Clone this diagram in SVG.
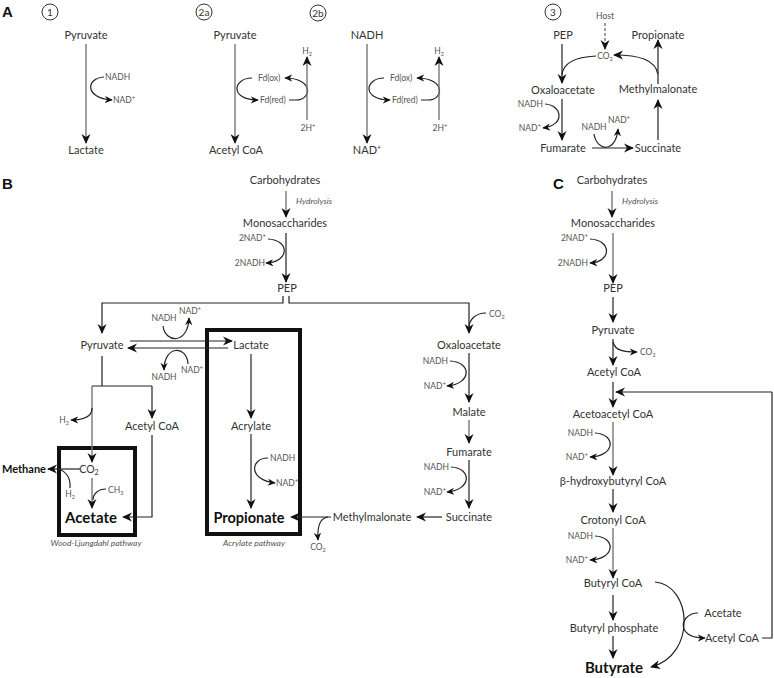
<svg xmlns="http://www.w3.org/2000/svg" width="774" height="678" viewBox="0 0 774 678">
<style>
text{font-family:Lato,"Liberation Sans",sans-serif;fill:#333}
.n{font-size:11px;text-anchor:middle}
.s{font-size:8.5px;fill:#555}
.c{text-anchor:middle}
.e{text-anchor:end}
.b{font-weight:bold;fill:#111;text-anchor:middle}
.p{font-family:"Liberation Sans",Arial,sans-serif;font-weight:bold;font-size:15px;fill:#111}
.i{font-style:italic;font-size:8.5px;fill:#555}
.l{fill:none;stroke:#222;stroke-width:1.2}
.g{fill:none;stroke:#777;stroke-width:1.4}
.a{marker-end:url(#ah)}
.sa{marker-end:url(#sh)}
.box{fill:none;stroke:#111;stroke-width:4}
.ci{fill:none;stroke:#333;stroke-width:1}
</style>
<defs>
<marker id="ah" viewBox="0 0 10 10" refX="9" refY="5" markerWidth="10" markerHeight="10" orient="auto" markerUnits="userSpaceOnUse"><path d="M0,0.5 L10,5 L0,9.5 L3,5 z" fill="#111"/></marker>
<marker id="sh" viewBox="0 0 10 10" refX="9" refY="5" markerWidth="8" markerHeight="8" orient="auto" markerUnits="userSpaceOnUse"><path d="M0,0.5 L10,5 L0,9.5 L3,5 z" fill="#111"/></marker>
</defs>

<g id="labels">
<text class="p" x="2" y="17">A</text>
<text class="p" x="2" y="189">B</text>
<text class="p" x="553" y="189">C</text>
</g>

<g id="circle-1"><circle class="ci" cx="50" cy="12" r="8"/><text class="c" x="50" y="16" font-size="10">1</text></g>
<g id="circle-2a"><circle class="ci" cx="204" cy="12" r="8"/><text class="c" x="204" y="16" font-size="10">2a</text></g>
<g id="circle-2b"><circle class="ci" cx="318" cy="13" r="8"/><text class="c" x="318" y="17" font-size="10">2b</text></g>
<g id="circle-3"><circle class="ci" cx="553" cy="12" r="8"/><text class="c" x="553" y="16" font-size="10">3</text></g>

<!-- Panel A nodes -->
<g id="a1-pyruvate"><text class="n" x="86" y="39">Pyruvate</text></g>
<g id="a1-lactate"><text class="n" x="86" y="154">Lactate</text></g>
<g id="a1-nadh"><text class="s" x="105" y="80">NADH</text></g>
<g id="a1-nad"><text class="s" x="113" y="103">NAD<tspan dy="-3" font-size="6">+</tspan></text></g>

<g id="a2a-pyruvate"><text class="n" x="235" y="39">Pyruvate</text></g>
<g id="a2a-acetylcoa"><text class="n" x="236" y="154">Acetyl CoA</text></g>
<g id="a2a-fdox"><text class="s" x="258" y="81">Fd(ox)</text></g>
<g id="a2a-fdred"><text class="s" x="260" y="103">Fd(red)</text></g>
<g id="a2a-h2"><text class="s c" x="307" y="54">H<tspan dy="2" font-size="5.5">2</tspan></text></g>
<g id="a2a-2h"><text class="s c" x="308" y="131">2H<tspan dy="-3" font-size="6">+</tspan></text></g>

<g id="a2b-nadh"><text class="n" x="367" y="39">NADH</text></g>
<g id="a2b-nad"><text class="n" x="367" y="154">NAD<tspan dy="-4" font-size="7">+</tspan></text></g>
<g id="a2b-fdox"><text class="s" x="390" y="81">Fd(ox)</text></g>
<g id="a2b-fdred"><text class="s" x="392" y="103">Fd(red)</text></g>
<g id="a2b-h2"><text class="s c" x="439" y="54">H<tspan dy="2" font-size="5.5">2</tspan></text></g>
<g id="a2b-2h"><text class="s c" x="440" y="131">2H<tspan dy="-3" font-size="6">+</tspan></text></g>

<g id="a3-host"><text class="s c" x="605" y="19" font-size="8">Host</text></g>
<g id="a3-co2"><text class="s c" x="605" y="59">CO<tspan dy="2" font-size="5.5">2</tspan></text></g>
<g id="a3-pep"><text class="n" x="563" y="39">PEP</text></g>
<g id="a3-propionate"><text class="n" x="658" y="39">Propionate</text></g>
<g id="a3-oxaloacetate"><text class="n" x="563" y="94">Oxaloacetate</text></g>
<g id="a3-methylmalonate"><text class="n" x="658" y="93">Methylmalonate</text></g>
<g id="a3-fumarate"><text class="n" x="563" y="152">Fumarate</text></g>
<g id="a3-succinate"><text class="n" x="658" y="152">Succinate</text></g>
<g id="a3-nadh1"><text class="s e" x="543" y="107">NADH</text></g>
<g id="a3-nad1"><text class="s e" x="541" y="131">NAD<tspan dy="-3" font-size="6">+</tspan></text></g>
<g id="a3-nadh2"><text class="s c" x="594" y="130">NADH</text></g>
<g id="a3-nad2"><text class="s c" x="619" y="123">NAD<tspan dy="-3" font-size="6">+</tspan></text></g>

<!-- Panel B nodes -->
<g id="b-carbohydrates"><text class="n" x="285" y="184">Carbohydrates</text></g>
<g id="b-hydrolysis"><text class="i" x="296" y="204">Hydrolysis</text></g>
<g id="b-monosaccharides"><text class="n" x="285" y="227">Monosaccharides</text></g>
<g id="b-2nad"><text class="s e" x="266" y="241">2NAD<tspan dy="-3" font-size="6">+</tspan></text></g>
<g id="b-2nadh"><text class="s e" x="265" y="266">2NADH</text></g>
<g id="b-pep"><text class="n" x="287" y="292">PEP</text></g>
<g id="b-pyruvate"><text class="n" x="102" y="349">Pyruvate</text></g>
<g id="b-lactate"><text class="n" x="251" y="349">Lactate</text></g>
<g id="b-nadh1"><text class="s c" x="164" y="321">NADH</text></g>
<g id="b-nad1"><text class="s c" x="190" y="314">NAD<tspan dy="-3" font-size="6">+</tspan></text></g>
<g id="b-nadh2"><text class="s c" x="164" y="380">NADH</text></g>
<g id="b-nad2"><text class="s c" x="192" y="373">NAD<tspan dy="-3" font-size="6">+</tspan></text></g>
<g id="b-h2"><text class="s c" x="64" y="423">H<tspan dy="2" font-size="5.5">2</tspan></text></g>
<g id="b-acetylcoa"><text class="n" x="152" y="430">Acetyl CoA</text></g>
<g id="b-wl-box"><rect class="box" x="59" y="448" width="76" height="87"/>
<text class="c" x="89" y="473" font-size="10.5">CO<tspan dy="2" font-size="7">2</tspan></text>
<text class="s c" x="70" y="497">H<tspan dy="2" font-size="5.5">2</tspan></text>
<text class="s" x="108" y="493">CH<tspan dy="2" font-size="5.5">3</tspan></text>
<text class="b" x="91" y="523" font-size="15">Acetate</text></g>
<g id="b-methane"><text class="b e" x="46" y="473" font-size="11" style="text-anchor:end">Methane</text></g>
<g id="b-wl-label"><text class="i c" x="96" y="546">Wood-Ljungdahl pathway</text></g>
<g id="b-acrylate-box"><rect class="box" x="207" y="330" width="93" height="204"/>
<text class="n" x="251" y="430">Acrylate</text>
<text class="s" x="270" y="461">NADH</text>
<text class="s" x="276" y="486">NAD<tspan dy="-3" font-size="6">+</tspan></text>
<text class="b" x="249" y="523" font-size="14.5">Propionate</text></g>
<g id="b-acrylate-label"><text class="i c" x="254" y="546">Acrylate pathway</text></g>
<g id="b-co2-b"><text class="s c" x="318" y="550">CO<tspan dy="2" font-size="5.5">2</tspan></text></g>
<g id="b-co2-a"><text class="s" x="489" y="317">CO<tspan dy="2" font-size="5.5">2</tspan></text></g>
<g id="b-oxaloacetate"><text class="n" x="469" y="349">Oxaloacetate</text></g>
<g id="b-nadh3"><text class="s e" x="448" y="364">NADH</text></g>
<g id="b-nad3"><text class="s e" x="446" y="389">NAD<tspan dy="-3" font-size="6">+</tspan></text></g>
<g id="b-malate"><text class="n" x="469" y="416">Malate</text></g>
<g id="b-fumarate"><text class="n" x="469" y="456">Fumarate</text></g>
<g id="b-nadh4"><text class="s e" x="449" y="470">NADH</text></g>
<g id="b-nad4"><text class="s e" x="446" y="495">NAD<tspan dy="-3" font-size="6">+</tspan></text></g>
<g id="b-succinate"><text class="n" x="469" y="521">Succinate</text></g>
<g id="b-methylmalonate"><text class="n" x="372" y="521">Methylmalonate</text></g>

<!-- Panel C nodes -->
<g id="c-carbohydrates"><text class="n" x="612" y="184">Carbohydrates</text></g>
<g id="c-hydrolysis"><text class="i" x="622" y="204">Hydrolysis</text></g>
<g id="c-monosaccharides"><text class="n" x="613" y="227">Monosaccharides</text></g>
<g id="c-2nad"><text class="s e" x="588" y="241">2NAD<tspan dy="-3" font-size="6">+</tspan></text></g>
<g id="c-2nadh"><text class="s e" x="588" y="266">2NADH</text></g>
<g id="c-pep"><text class="n" x="613" y="292">PEP</text></g>
<g id="c-pyruvate"><text class="n" x="613" y="334">Pyruvate</text></g>
<g id="c-co2"><text class="s" x="640" y="355">CO<tspan dy="2" font-size="5.5">2</tspan></text></g>
<g id="c-acetylcoa"><text class="n" x="614" y="376">Acetyl CoA</text></g>
<g id="c-acetoacetylcoa"><text class="n" x="613" y="418">Acetoacetyl CoA</text></g>
<g id="c-nadh1"><text class="s e" x="593" y="436">NADH</text></g>
<g id="c-nad1"><text class="s e" x="588" y="460">NAD<tspan dy="-3" font-size="6">+</tspan></text></g>
<g id="c-hydroxybutyrylcoa"><text class="n" x="613" y="485">β-hydroxybutyryl CoA</text></g>
<g id="c-crotonylcoa"><text class="n" x="613" y="524">Crotonyl CoA</text></g>
<g id="c-nadh2"><text class="s e" x="593" y="539">NADH</text></g>
<g id="c-nad2"><text class="s e" x="588" y="563">NAD<tspan dy="-3" font-size="6">+</tspan></text></g>
<g id="c-butyrylcoa"><text class="n" x="613" y="587">Butyryl CoA</text></g>
<g id="c-butyrylphosphate"><text class="n" x="614" y="632">Butyryl phosphate</text></g>
<g id="c-butyrate"><text class="b" x="614" y="673" font-size="15">Butyrate</text></g>
<g id="c-acetate"><text class="n" x="723" y="617">Acetate</text></g>
<g id="c-acetylcoa2"><text class="n" x="732" y="642">Acetyl CoA</text></g>

<g id="connectors">
<!-- A1 -->
<path class="g a" d="M86,44 V143"/>
<path class="l sa" d="M104,77 C86,78 84,98 112,100"/>
<!-- A2a -->
<path class="g a" d="M235,44 V143"/>
<path class="l sa" d="M252,78 C233,78 229,100 258,100"/>
<path class="l sa" d="M289,100 L296,100 C312,100 314,78 285,78"/>
<path class="g a" d="M307,120 V57"/>
<!-- A2b -->
<path class="g a" d="M367,44 V143"/>
<path class="l sa" d="M384,78 C365,78 361,100 390,100"/>
<path class="l sa" d="M421,100 L428,100 C444,100 446,78 417,78"/>
<path class="g a" d="M439,120 V57"/>
<!-- A3 -->
<path class="g a" d="M605,23 V49" stroke-dasharray="3,2"/>
<path class="l a" d="M562,44 V83"/>
<path class="l" d="M596,56 C576,57 563,62 562,75"/>
<path class="l a" d="M658,84 V40"/>
<path class="l a" d="M658,74 C655,60 640,55 614,55"/>
<path class="l a" d="M562,99 V140"/>
<path class="l sa" d="M545,104 C562,105 566,125 543,128"/>
<path class="l a" d="M592,148 H633"/>
<path class="l sa" d="M594,134 C597,152 616,153 618,129"/>
<path class="l a" d="M658,140 V100"/>
<!-- B -->
<path class="g a" d="M286,191 V217"/>
<path class="l a" d="M286,233 V282"/>
<path class="l sa" d="M268,239 C290,240 290,262 266,263"/>
<path class="l a" d="M283,296 V303 H102 V333"/>
<path class="l a" d="M289,296 V303 H469 V333"/>
<path class="l a" d="M130,341 H232"/>
<path class="l a" d="M228,348 H128"/>
<path class="l sa" d="M163,326 C165,343 188,345 189,318"/>
<path class="l sa" d="M188,364 C187,345 164,345 164,370"/>
<path class="l" d="M102,356 V386 M92,386 H152"/>
<path class="g a" d="M92,386 V462"/>
<path class="l a" d="M152,386 V418"/>
<path class="l sa" d="M92,408 C92,416 84,420 71,420"/>
<path class="l a" d="M152,435 V517 H123"/>
<path class="l a" d="M80,469 H48"/>
<path class="l" d="M70,488 C71,478 66,471 58,469"/>
<path class="g a" d="M92,478 V508"/>
<path class="l" d="M106,489 C98,489 93,494 93,500"/>
<path class="l a" d="M251,354 V418"/>
<path class="l a" d="M251,434 V508"/>
<path class="l sa" d="M268,458 C250,458 248,480 275,483"/>
<path class="l a" d="M331,517 H291"/>
<path class="l sa" d="M328,517 C320,518 317,525 318,540"/>
<path class="l" d="M486,313 C475,313 469,320 469,328"/>
<path class="l a" d="M469,353 V402"/>
<path class="l sa" d="M450,361 C472,362 472,384 447,386"/>
<path class="g a" d="M469,420 V443"/>
<path class="l a" d="M469,460 V508"/>
<path class="l sa" d="M451,467 C472,468 472,490 447,492"/>
<path class="l a" d="M442,517 H417"/>
<!-- C -->
<path class="g a" d="M612,191 V217"/>
<path class="g a" d="M613,233 V283"/>
<path class="l sa" d="M590,239 C612,240 612,262 590,263"/>
<path class="l a" d="M613,297 V322"/>
<path class="l a" d="M613,339 V365"/>
<path class="l sa" d="M613,342 C615,351 625,352 637,352"/>
<path class="l a" d="M613,382 V407"/>
<path class="l a" d="M772,392 H616"/>
<path class="g a" d="M613,422 V475"/>
<path class="l sa" d="M595,433 C616,434 616,456 590,457"/>
<path class="l a" d="M613,489 V512"/>
<path class="g a" d="M613,528 V578"/>
<path class="l sa" d="M595,536 C616,537 616,559 590,560"/>
<path class="l a" d="M613,595 V620"/>
<path class="l a" d="M613,636 V658"/>
<path class="l a" d="M655,582 C692,585 697,655 651,667"/>
<path class="l sa" d="M698,613 C688,613 681,621 684,629 C687,636 696,638 705,638"/>
<path class="l" d="M762,638 H772 V392"/>
</g>
</svg>
